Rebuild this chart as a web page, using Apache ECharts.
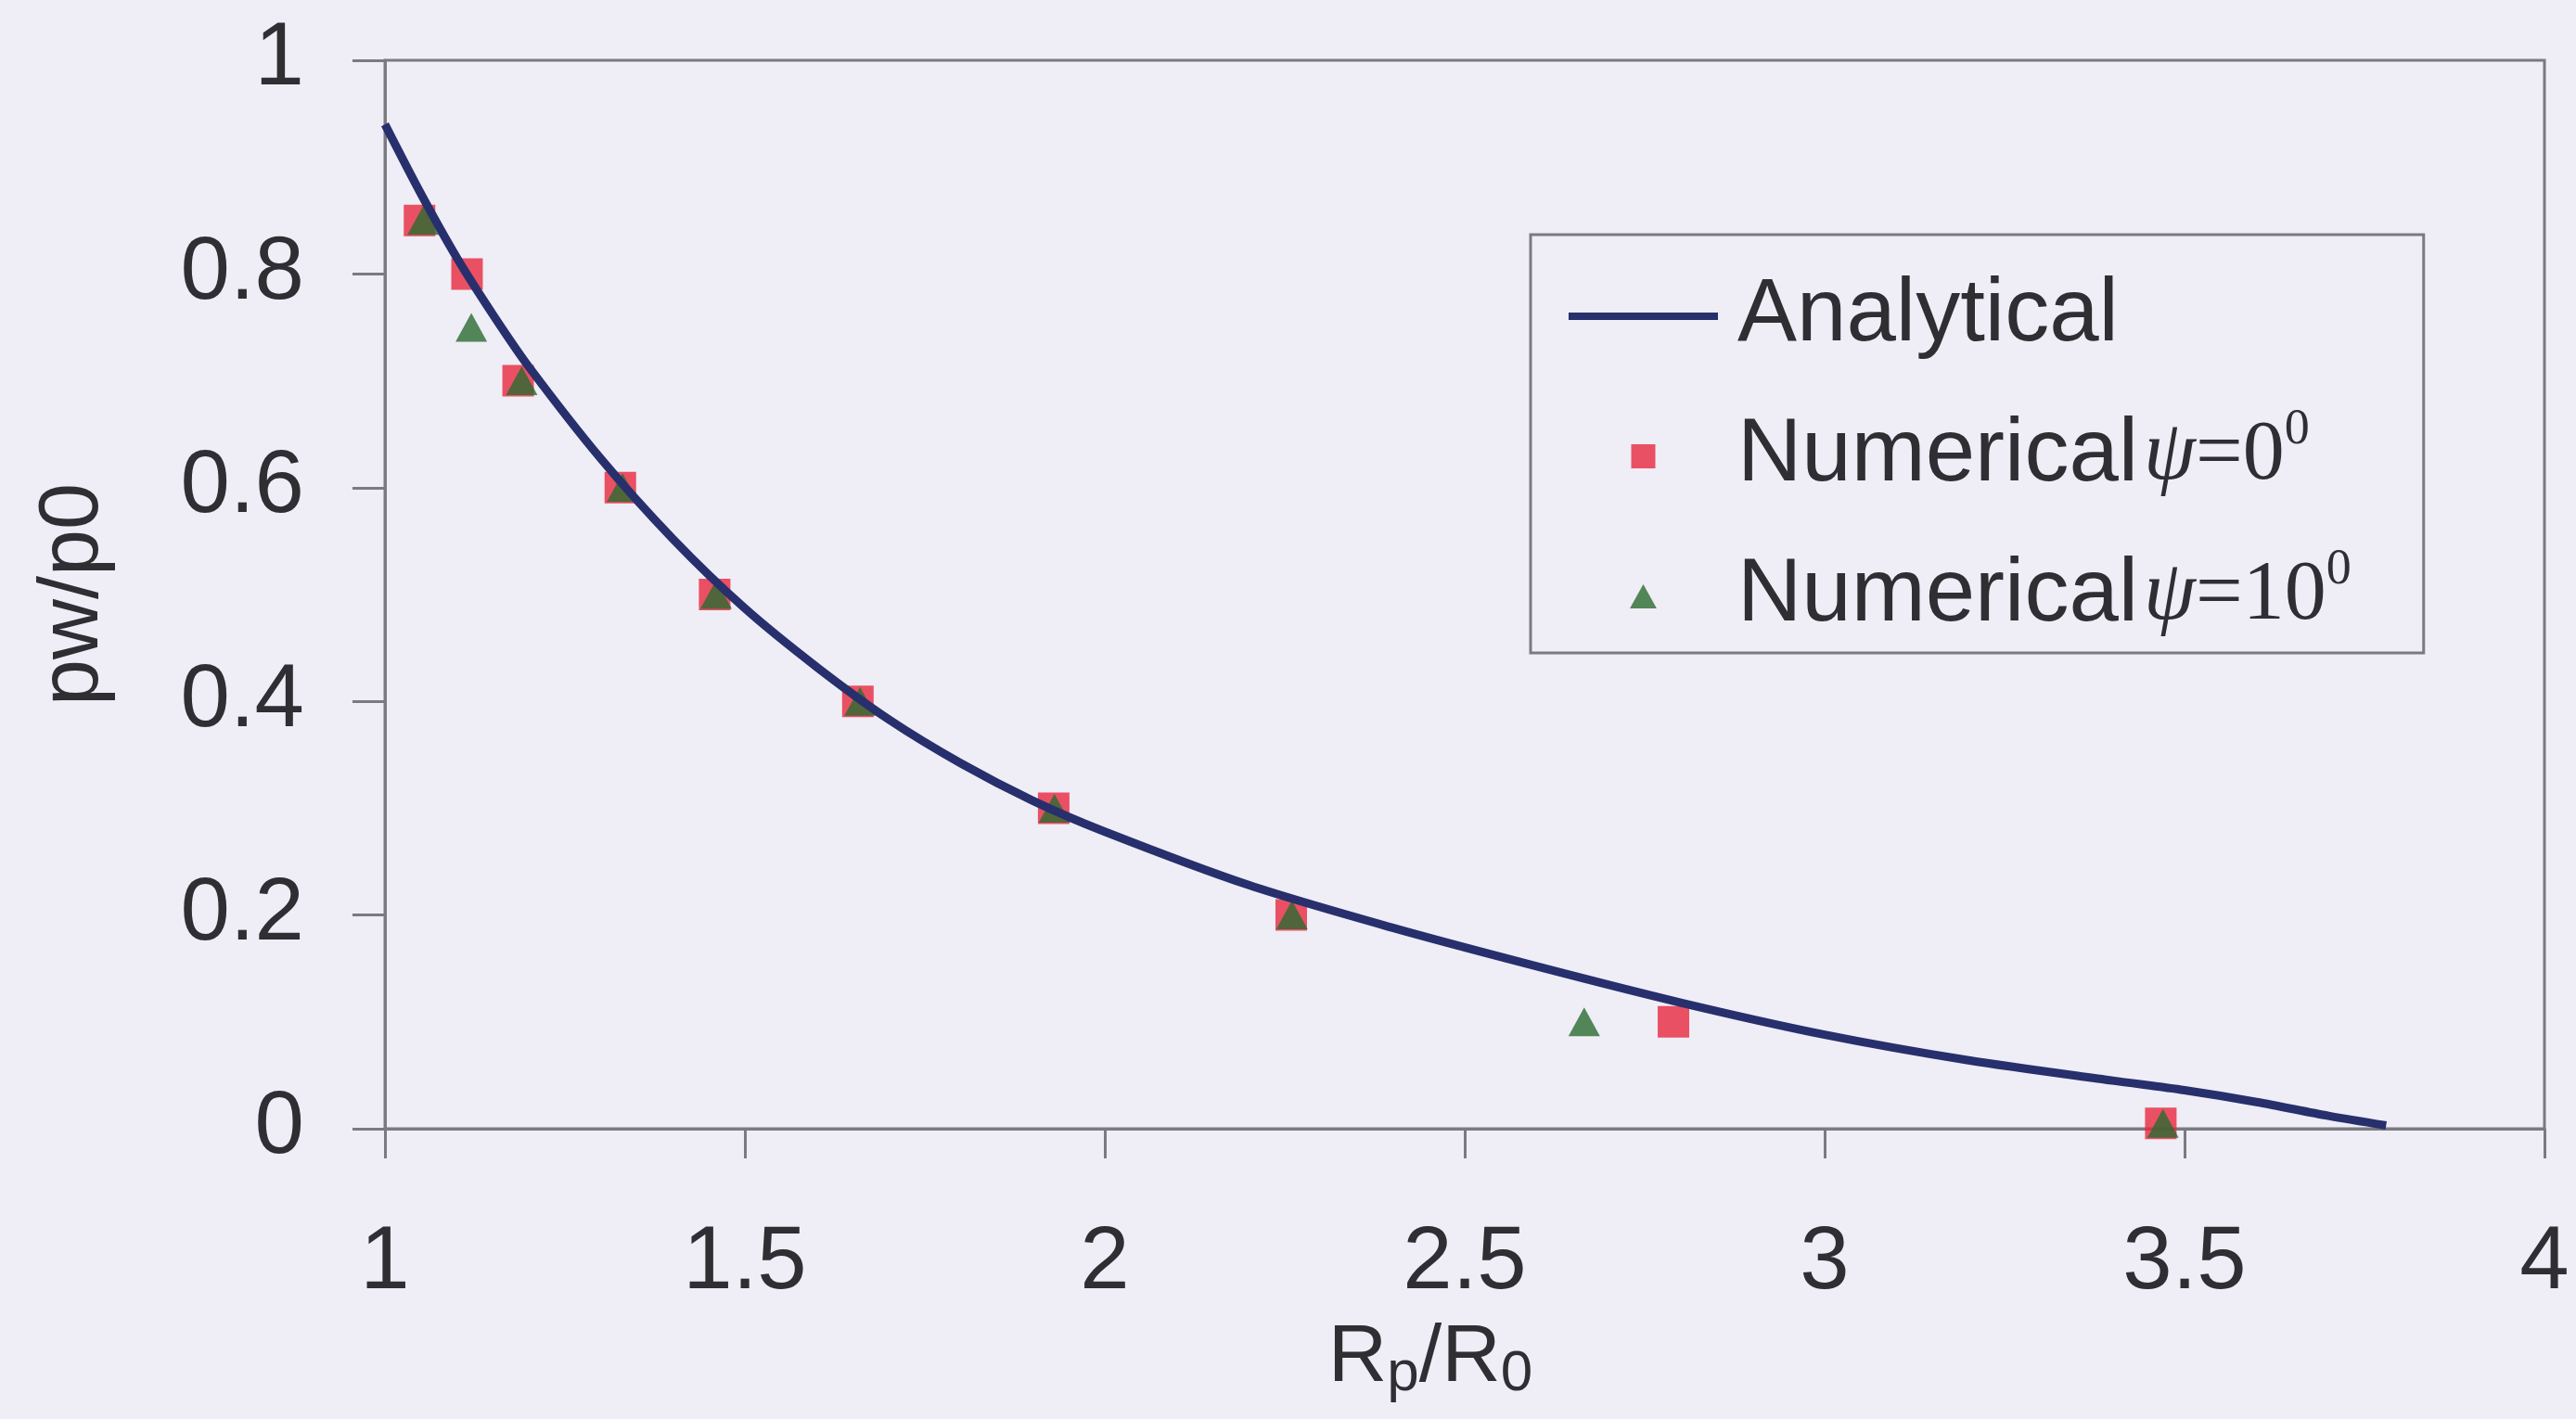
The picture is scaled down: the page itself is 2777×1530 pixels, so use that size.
<!DOCTYPE html>
<html>
<head>
<meta charset="utf-8">
<title>pw/p0 vs Rp/R0</title>
<script src="https://cdn.jsdelivr.net/npm/echarts@6/dist/echarts.min.js"></script>
<style>
  html, body { margin: 0; padding: 0; background: #efedf6; }
  #chart { width: 2777px; height: 1530px; }
</style>
</head>
<body>
<div id="chart"></div>
<script>
// values
const analyticX = [1.0, 1.05, 1.1, 1.15, 1.2, 1.3, 1.4, 1.5, 1.6, 1.7, 1.8, 1.9, 2.0, 2.2, 2.4, 2.6, 2.8, 3.0, 3.2, 3.4, 3.5, 3.6, 3.7, 3.78];
const analyticY = [0.94, 0.875, 0.815, 0.762, 0.713, 0.627, 0.552, 0.487, 0.432, 0.383, 0.342, 0.307, 0.278, 0.228, 0.188, 0.152, 0.118, 0.088, 0.064, 0.045, 0.036, 0.025, 0.012, 0.003];

const num0X = [1.048, 1.114, 1.185, 1.327, 1.458, 1.657, 1.929, 2.259, 2.79, 3.467];
const num0Y = [0.85, 0.80, 0.70, 0.60, 0.50, 0.40, 0.30, 0.20, 0.10, 0.005];

const num10X = [1.053, 1.12, 1.19, 1.33, 1.46, 1.66, 1.93, 2.26, 2.666, 3.47];
const num10Y = [0.85, 0.75, 0.70, 0.60, 0.50, 0.40, 0.30, 0.20, 0.10, 0.005];

const xTicks = { min: 1, max: 4, step: 0.5 };
const yTicks = { min: 0, max: 1, step: 0.2 };

function pairs(xs, ys) {
  return xs.map((x, i) => [x, ys[i]]);
}

const chart = echarts.init(document.getElementById("chart"), null, { renderer: "canvas" });

const axisGray = "#7a7a80";
const textColor = "#2e2e33";
const navy = "#27306c";
const red = "#e8283f";
const green = "#2a6a30";
const sans = "'Liberation Sans', Arial, sans-serif";
const serif = "'Liberation Serif', 'Times New Roman', serif";

chart.setOption({
  backgroundColor: "#efedf6",
  animation: false,
  grid: {
    left: 415,
    right: 34,
    top: 65,
    bottom: 313,
    show: true,
    borderColor: axisGray,
    borderWidth: 3,
    backgroundColor: "transparent"
  },
  legend: {
    data: [
      { name: "Analytical", itemStyle: { opacity: 0 }, lineStyle: { width: 8, color: navy } },
      { name: "Numerical0", icon: "path://M0,0 L10,0 L10,10 L0,10 Z" },
      { name: "Numerical10", icon: "path://M5,0 L10,9 L0,9 Z" }
    ],
    orient: "vertical",
    left: 1650,
    top: 253,
    padding: [33, 78, 6, 37],
    itemWidth: 161,
    itemHeight: 26,
    itemGap: 41,
    borderColor: axisGray,
    borderWidth: 3,
    backgroundColor: "transparent",
    textStyle: {
      color: textColor,
      fontFamily: sans,
      fontSize: 96,
      lineHeight: 110,
      padding: [0, 0, 0, 16],
      rich: {
        n: { fontFamily: sans, fontSize: 96, color: textColor },
        g: { fontFamily: serif, fontStyle: "italic", fontSize: 90, color: textColor, padding: [0, 0, 0, 6] },
        e: { fontFamily: serif, fontSize: 90, color: textColor },
        s: { fontFamily: serif, fontSize: 54, color: textColor, verticalAlign: "top", lineHeight: 70 }
      }
    },
    formatter: function (name) {
      if (name === "Numerical0") return "{n|Numerical}{g|ψ}{e|=0}{s|0}";
      if (name === "Numerical10") return "{n|Numerical}{g|ψ}{e|=10}{s|0}";
      return "{n|" + name + "}";
    }
  },
  xAxis: {
    type: "value",
    min: xTicks.min,
    max: xTicks.max,
    interval: xTicks.step,
    name: "{r|R}{sub|p}{r|/R}{sub|0}",
    nameLocation: "middle",
    nameGap: 200,
    nameTextStyle: {
      padding: [0, 74, 0, 0],
      rich: {
        r: { fontFamily: sans, fontSize: 88, color: textColor, lineHeight: 96 },
        sub: { fontFamily: sans, fontSize: 62, color: textColor, verticalAlign: "bottom", lineHeight: 44 }
      }
    },
    axisLine: { onZero: false, lineStyle: { color: axisGray, width: 3 } },
    axisTick: { show: true, inside: false, length: 32, lineStyle: { color: axisGray, width: 3 } },
    axisLabel: { color: textColor, fontFamily: sans, fontSize: 96, margin: 98 },
    splitLine: { show: false }
  },
  yAxis: {
    type: "value",
    min: yTicks.min,
    max: yTicks.max,
    interval: yTicks.step,
    name: "pw/p0",
    nameLocation: "middle",
    nameGap: 290,
    nameRotate: 90,
    nameTextStyle: { fontFamily: sans, fontSize: 90, color: textColor },
    axisLine: { onZero: false, lineStyle: { color: axisGray, width: 3 } },
    axisTick: { show: true, inside: false, length: 35, lineStyle: { color: axisGray, width: 3 } },
    axisLabel: { color: textColor, fontFamily: sans, fontSize: 96, margin: 87 },
    splitLine: { show: false }
  },
  series: [
    {
      name: "Numerical0",
      type: "scatter",
      data: pairs(num0X, num0Y),
      symbol: "rect",
      symbolSize: 34,
      itemStyle: { color: red },
      z: 2
    },
    {
      name: "Numerical10",
      type: "scatter",
      data: pairs(num10X, num10Y),
      symbol: "triangle",
      symbolSize: [34, 31],
      itemStyle: { color: green },
      z: 3
    },
    {
      name: "Analytical",
      type: "line",
      data: pairs(analyticX, analyticY),
      smooth: 0.3,
      symbol: "none",
      lineStyle: { color: navy, width: 9 },
      itemStyle: { color: navy },
      z: 4
    }
  ]
});
</script>
</body>
</html>
